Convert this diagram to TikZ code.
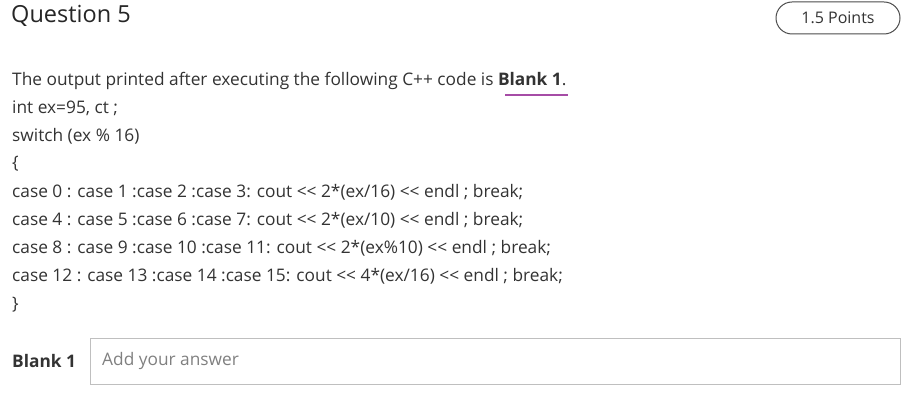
\documentclass[tikz,border=0pt]{standalone}
\usepackage{fontspec}
\setmainfont{Open Sans}
\newcommand{\shl}{{<}{<}}
\begin{document}
\begin{tikzpicture}[x=1pt,y=-1pt,
  txt/.style={anchor=west,inner sep=0pt,text=black!80,font=\fontsize{17.3}{19}\selectfont},
  box/.style={draw=black!25,line width=1pt}]
\useasboundingbox[fill=white] (0,0) rectangle (917,403);
\node[txt,font=\fontsize{23.5}{25}\selectfont,text=black!85] (q) at (11,16) {Question 5};
\node[box,rounded corners=16pt,minimum width=124pt,minimum height=32pt,font=\fontsize{16}{18}\selectfont,text=black!80,draw=black!70] (pts) at (838,18) {1.5 Points};
\node[txt] (l0) at (12,81) {The output printed after executing the following C++ code is \textbf{Blank 1}.};
\draw[line width=1.5pt,color=violet!70] (505,95) -- (568,95);
\node[txt] (l1) at (12,108) {int ex=95, ct ;};
\node[txt] (l2) at (12,136) {switch (ex \% 16)};
\node[txt] (l3) at (12,164) {\{};
\node[txt] (l4) at (12,192) {case 0 : case 1 :case 2 :case 3: cout \shl{} 2*(ex/16) \shl{} endl ; break;};
\node[txt] (l5) at (12,220) {case 4 : case 5 :case 6 :case 7: cout \shl{} 2*(ex/10) \shl{} endl ; break;};
\node[txt] (l6) at (12,248) {case 8 : case 9 :case 10 :case 11: cout \shl{} 2*(ex\%10) \shl{} endl ; break;};
\node[txt] (l7) at (12,276) {case 12 : case 13 :case 14 :case 15: cout \shl{} 4*(ex/16) \shl{} endl ; break;};
\node[txt] (l8) at (12,305) {\}};
\node[txt,font=\fontsize{17.3}{19}\selectfont\bfseries] (b) at (12,361) {Blank 1};
\draw[box] (90,338) rectangle (900,384);
\node[txt,text=black!50] (ph) at (102,361) {Add your answer};
\end{tikzpicture}
\end{document}
